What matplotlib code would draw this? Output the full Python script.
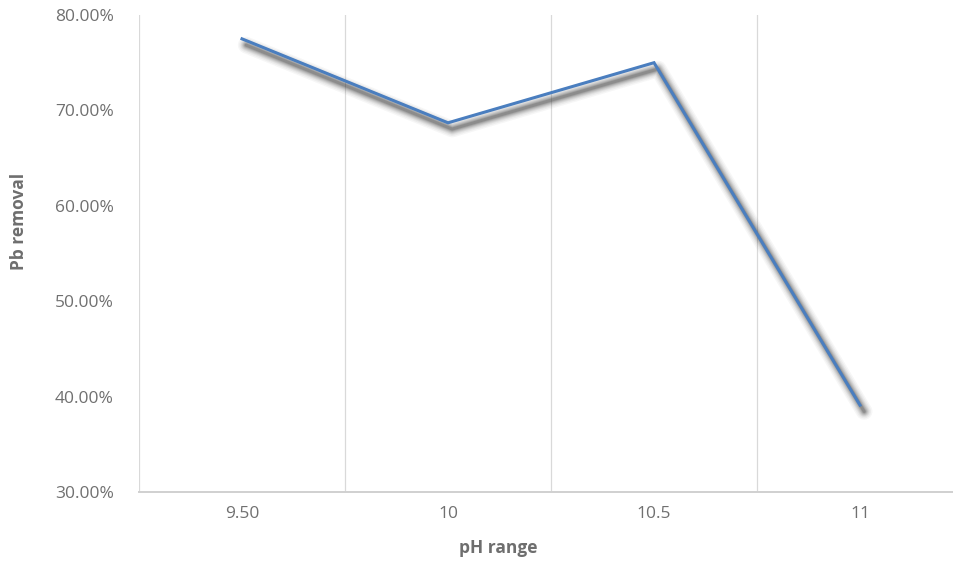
import numpy as np
import matplotlib.pyplot as plt
import matplotlib.transforms as mtransforms
from matplotlib.ticker import FuncFormatter

# pH categories and lead removal (%)
ph_labels = ["9.50", "10", "10.5", "11"]
pb_removal = [77.5, 68.7, 75.0, 39.1]

y_ticks = [30, 40, 50, 60, 70, 80]

plt.rcParams['font.family'] = ['Open Sans', 'DejaVu Sans']

fig = plt.figure(figsize=(9.54, 5.65), dpi=100)
ax = fig.add_axes([139 / 954, 1 - 492 / 565, 824 / 954, 477 / 565])

x = np.arange(len(ph_labels))

# soft drop shadow: stacked offset strokes, wide and faint to narrow and darker
shadow = mtransforms.offset_copy(ax.transData, fig=fig, x=3.0, y=-4.5, units='points')
for lw, a in [(12, 0.04), (10, 0.05), (8, 0.07), (6.5, 0.09), (5, 0.12), (3.5, 0.15), (2.2, 0.2)]:
    ax.plot(x, pb_removal, color='#303030', lw=lw, alpha=a,
            solid_capstyle='round', solid_joinstyle='round', transform=shadow, zorder=2)

ax.plot(x, pb_removal, color='#4a7ebf', lw=2.2, solid_joinstyle='miter', zorder=3)

ax.set_xlim(-0.5, len(ph_labels) - 0.5)
ax.set_ylim(30, 80)
ax.set_xticks(x)
ax.set_xticklabels(ph_labels)
ax.set_yticks(y_ticks)
ax.yaxis.set_major_formatter(FuncFormatter(lambda v, _: f"{v:.2f}%"))

# vertical gridlines on category boundaries
for b in np.arange(-0.5, len(ph_labels) - 0.5):
    ax.axvline(b, color='#d9d9d9', lw=0.9, zorder=1)

for side in ['top', 'right', 'left']:
    ax.spines[side].set_visible(False)
ax.spines['bottom'].set_color('#d0d0d0')
ax.spines['bottom'].set_linewidth(1.4)

ax.tick_params(axis='both', length=0, labelsize=12.5, labelcolor='#707070')
ax.tick_params(axis='y', pad=18)
ax.tick_params(axis='x', pad=10)

fig.text(498 / 954, 1 - 548 / 565, "pH range", fontsize=12.5, fontweight='bold',
         color='#6e6e6e', ha='center', va='center')
fig.text(19 / 954, 1 - 221 / 565, "Pb removal", fontsize=12.5, fontweight='bold',
         color='#6e6e6e', ha='center', va='center', rotation=90)

fig.savefig("out.png", dpi=100)
